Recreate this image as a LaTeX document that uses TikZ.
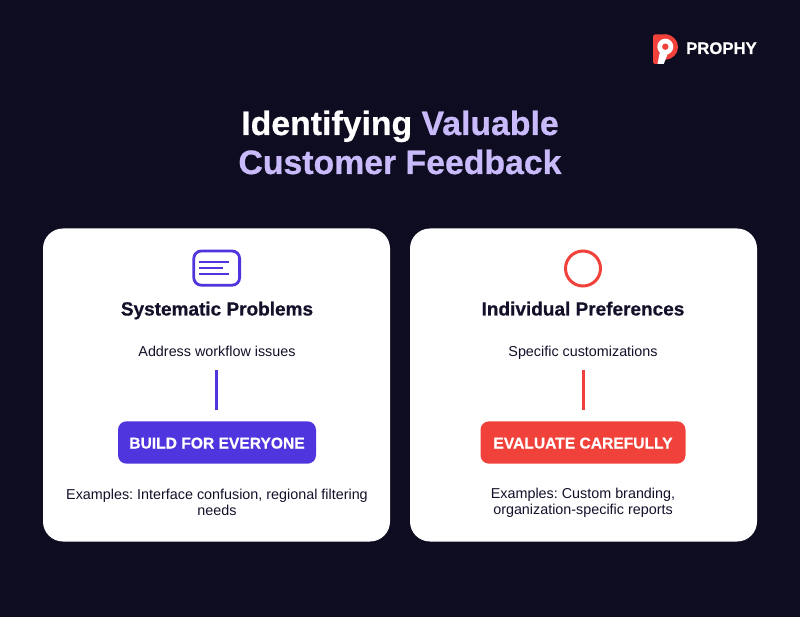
\documentclass[tikz,border=0pt]{standalone}
\usepackage{fontspec}
\setmainfont[BoldFeatures={FakeBold=0.6}]{Liberation Sans}
\frenchspacing
\definecolor{bg}{HTML}{0E0C20}
\definecolor{ink}{HTML}{13112A}
\definecolor{lav}{HTML}{C9BBFB}
\definecolor{vio}{HTML}{4F35DE}
\definecolor{rd}{HTML}{F0423A}
\begin{document}
\begin{tikzpicture}[x=1pt,y=-1pt,
  card/.style={fill=white,rounded corners=20pt},
  head/.style={font=\fontsize{19}{23}\selectfont\bfseries,text=ink,anchor=base,inner sep=0pt},
  body/.style={font=\fontsize{14.35}{16}\selectfont,text=ink,anchor=base,inner sep=0pt},
  lines/.style={font=\fontsize{14.35}{16}\selectfont,text=ink,anchor=center,inner sep=0pt,align=center},
  btnbox/.style={rounded corners=8.5pt},
  btn/.style={font=\fontsize{15.6}{20}\selectfont\bfseries,text=white,anchor=base,inner sep=0pt},
  title/.style={font=\fontsize{33.8}{39}\selectfont\bfseries,anchor=base,inner sep=0pt},
  stem/.style={line width=2.8pt}]
\useasboundingbox (0,0) rectangle (800,617);
\fill[bg] (0,0) rectangle (800,617);
% logo
\fill[rd,rounded corners=1.5pt] (653,34.5) -- (665.5,34.5) -- (669,34.5) -- (678,47) -- (669,59.5) -- (664,59.5) -- (660,64) -- (653,64) -- cycle;
\fill[rd] (665.5,47) circle[radius=12.5];
\fill[white] (665.3,46.7) circle[radius=8];
\fill[rd] (665.3,46.7) circle[radius=3.2];
\fill[white] (660,51.5) -- (667.5,54.5) -- (663.8,63.8) -- (657.5,63.8) -- cycle;
\node[font=\fontsize{16.7}{18}\selectfont\bfseries,text=white,inner sep=0pt,anchor=base west] (brand) at (686,54) {PROPHY};
% title
\node[title,text=white] (t1) at (400,135) {Identifying \textcolor{lav}{Valuable}};
\node[title,text=lav] (t2) at (400,174) {Customer Feedback};
% cards
\fill[card] (43,228.5) rectangle (390,541.5);
\fill[card] (410,228.5) rectangle (757,541.5);
% left icon
\draw[vio,line width=2.8pt,rounded corners=7.5pt] (193.8,251) rectangle (239.6,285.2);
\draw[vio,line width=2.3pt] (199,262.3) -- (229,262.3) (199,268.3) -- (223,268.3) (199,274.3) -- (229,274.3);
\node[head] (h1) at (217,315.5) {Systematic Problems};
\node[body] (s1) at (217,356) {Address workflow issues};
\fill[vio,btnbox] (118,421.3) rectangle (316,463.7);
\node[btn] (b1) at (217,448.5) {BUILD FOR EVERYONE};
\node[lines] (e1) at (217,502.5) {Examples: Interface confusion, regional filtering\\needs};
\draw[stem,vio] (216.8,370) -- (216.8,410);
% right icon
\draw[rd,line width=3pt] (583,268.5) circle[radius=17.5];
\node[head] (h2) at (583,315.5) {Individual Preferences};
\node[body] (s2) at (583,356) {Specific customizations};
\fill[rd,btnbox] (480.5,421.3) rectangle (685.5,463.7);
\node[btn] (b2) at (583,448.5) {EVALUATE CAREFULLY};
\node[lines] (e2) at (583,502.5) {Examples: Custom branding,\\organization-specific reports};
\draw[stem,rd] (583.2,370) -- (583.2,410);
\end{tikzpicture}
\end{document}
